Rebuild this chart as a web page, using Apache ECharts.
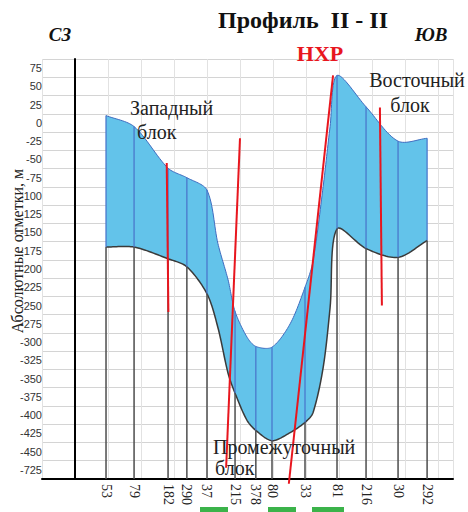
<!DOCTYPE html>
<html><head><meta charset="utf-8">
<script src="https://cdn.jsdelivr.net/npm/echarts@6/dist/echarts.min.js"></script>
<style>html,body{margin:0;padding:0;background:#fff}#c{width:468px;height:512px}</style>
</head><body><div id="c"></div>
<script>
// Y tick labels (top to bottom, the last one is an axis break)
const yTickLabels = ['75','50','25','0','-25','-50','-75','-100','-125','-150','-175','-200','-225','-250','-275','-300','-325','-350','-375','-400','-425','-450','-725'];
// Wells along the profile
const wellNames = ['53','79','182','290','37','215','378','80','33','81','216','30','292'];
const wellPos   = [94, 179, 282, 339, 400, 485, 548, 597, 697, 794, 882, 979, 1067];
const wellTop   = [10, -5, -62, -75, -92, -258, -306, -307, -225, 65, 22, -25, -21];
const wellBot   = [-170, -170, -186, -197, -234, -370, -421, -435, -410, -145, -172, -184, -161];
// Layer surfaces (read along the profile)
const surfX   = [94, 179, 282, 339, 400, 433, 464, 485, 521, 548, 597, 652, 697, 721, 752, 773, 794, 882, 979, 1067];
const surfTop = [10, -5, -62, -75, -92, -165, -215, -258, -293, -306, -307, -275, -225, -190, -87, -5, 65, 22, -25, -21];
const surfBot = [-170, -170, -186, -197, -234, -280, -343, -370, -407, -421, -435, -424, -410, -397, -335, -253, -145, -172, -184, -161];
// Faults
const faultA = [[278, -55], [283, -259]];
const faultB = [[500, -21], [458, -472]];
const faultNHR = [[782, 65], [648, -494]];
const faultC = [[924, 21], [930, -250]];

const X_MIN = -100, X_MAX = 1145.5;
const Y_MIN = -487.5, Y_MAX = 87.5;
const SMOOTH = 0.3;
const serif = '"Liberation Serif", "DejaVu Serif", serif';

const chart = echarts.init(document.getElementById('c'), null, {renderer: 'svg'});

function faultSeries(d) {
  return {type: 'line', xAxisIndex: 0, yAxisIndex: 1, data: d, symbol: 'none', clip: false, z: 8,
    lineStyle: {color: '#e8161e', width: 2}, silent: true, animation: false};
}

// Smooth a pixel polyline (same idea as ECharts' line smoothing) and sample it densely
function smoothSample(pts, s) {
  const n = pts.length, cin = [], cout = [];
  for (let i = 0; i < n; i++) {
    const p = pts[i], pr = pts[Math.max(i - 1, 0)], nx = pts[Math.min(i + 1, n - 1)];
    const vx = nx[0] - pr[0], vy = nx[1] - pr[1];
    const d0 = Math.hypot(p[0] - pr[0], p[1] - pr[1]), d1 = Math.hypot(nx[0] - p[0], nx[1] - p[1]);
    const sum = d0 + d1 || 1;
    cin.push([p[0] - vx * s * d0 / sum, p[1] - vy * s * d0 / sum]);
    cout.push([p[0] + vx * s * d1 / sum, p[1] + vy * s * d1 / sum]);
  }
  const out = [pts[0]];
  for (let i = 0; i < n - 1; i++) {
    const a = pts[i], b = cout[i], c = cin[i + 1], d = pts[i + 1];
    for (let k = 1; k <= 16; k++) {
      const t = k / 16, u = 1 - t;
      out.push([
        u * u * u * a[0] + 3 * u * u * t * b[0] + 3 * u * t * t * c[0] + t * t * t * d[0],
        u * u * u * a[1] + 3 * u * u * t * b[1] + 3 * u * t * t * c[1] + t * t * t * d[1]
      ]);
    }
  }
  return out;
}

chart.setOption({
  animation: false,
  grid: {left: 42, right: 15, top: 59, bottom: 33, containLabel: false, outerBoundsMode: 'none'},
  xAxis: [
    {type: 'value', min: X_MIN, max: X_MAX, interval: 100,
      axisLine: {show: false, onZero: false}, axisTick: {show: false}, axisLabel: {show: false},
      splitLine: {show: true, lineStyle: {color: '#e2e2e2', width: 1}}},
    {type: 'value', min: X_MIN, max: X_MAX, position: 'bottom',
      axisLine: {show: true, onZero: false, lineStyle: {color: '#000', width: 2}},
      axisTick: {show: false}, splitLine: {show: false},
      axisLabel: {customValues: wellPos, rotate: -90, margin: 5, color: '#222', fontSize: 14, fontFamily: serif,
        formatter: function (v) { const i = wellPos.indexOf(v); return i >= 0 ? wellNames[i] : ''; }}}
  ],
  yAxis: [
    {type: 'category', data: yTickLabels.slice().reverse(), boundaryGap: true, position: 'left',
      axisLine: {show: true, onZero: true, onZeroAxisIndex: 0, lineStyle: {color: '#000', width: 2}},
      axisTick: {show: false},
      axisLabel: {interval: 0, color: '#333', fontSize: 11, fontFamily: '"Liberation Sans", Arial, sans-serif', margin: 0},
      splitLine: {show: true, interval: 0, lineStyle: {color: '#d4d4d4', width: 1}}},
    {type: 'value', min: Y_MIN, max: Y_MAX, show: false, axisLine: {onZero: false}, splitLine: {show: false}}
  ],
  series: [
    {type: 'custom', name: 'layer', xAxisIndex: 0, yAxisIndex: 1, z: 3, clip: false,
      data: surfX.map((x, i) => [x, surfTop[i], surfBot[i]]),
      encode: {x: 0, y: [1, 2]},
      renderItem: function (params, api) {
        if (params.dataIndex !== 0) return null;
        const n = surfX.length, topPx = [], botPx = [];
        for (let i = 0; i < n; i++) {
          const x = api.value(0, i);
          topPx.push(api.coord([x, api.value(1, i)]));
          botPx.push(api.coord([x, api.value(2, i)]));
        }
        const topS = smoothSample(topPx, SMOOTH), botS = smoothSample(botPx, SMOOTH);
        return {type: 'group', children: [
          {type: 'polygon', shape: {points: topS.concat(botS.slice().reverse())}, style: {fill: '#63c3ea', stroke: null}},
          {type: 'polyline', shape: {points: topS}, style: {stroke: '#3f6cc0', lineWidth: 1, fill: null}},
          {type: 'polyline', shape: {points: botS}, style: {stroke: '#3a3a3a', lineWidth: 1.5, fill: null}}
        ]};
      }},
    {type: 'custom', xAxisIndex: 0, yAxisIndex: 1, z: 5, clip: false,
      data: wellPos.map((x, i) => [x, wellTop[i], wellBot[i]]),
      encode: {x: 0, y: [1, 2]},
      renderItem: function (params, api) {
        const x = api.value(0);
        const p1 = api.coord([x, api.value(1)]);
        const p2 = api.coord([x, api.value(2)]);
        const p3 = api.coord([x, Y_MIN]);
        return {type: 'group', children: [
          {type: 'line', shape: {x1: p1[0], y1: p1[1], x2: p2[0], y2: p2[1]}, style: {stroke: '#4a78cc', lineWidth: 1.3}},
          {type: 'line', shape: {x1: p2[0], y1: p2[1], x2: p3[0], y2: p3[1]}, style: {stroke: '#4d4d4d', lineWidth: 1.5}}
        ]};
      }},
    faultSeries(faultA), faultSeries(faultB), faultSeries(faultNHR), faultSeries(faultC)
  ],
  graphic: [
    {type: 'text', x: 303, y: 20, z: 10, style: {text: 'Профиль  II - II', fontSize: 24, fontWeight: 'bold', fontFamily: serif, fill: '#111', align: 'center', verticalAlign: 'middle'}},
    {type: 'text', x: 60, y: 34, z: 10, style: {text: 'СЗ', fontSize: 19, fontWeight: 'bold', fontStyle: 'italic', fontFamily: serif, fill: '#111', align: 'center', verticalAlign: 'middle'}},
    {type: 'text', x: 431, y: 34, z: 10, style: {text: 'ЮВ', fontSize: 19, fontWeight: 'bold', fontStyle: 'italic', fontFamily: serif, fill: '#111', align: 'center', verticalAlign: 'middle'}},
    {type: 'text', x: 320, y: 53, z: 10, style: {text: 'НХР', fontSize: 22, fontWeight: 'bold', fontFamily: serif, fill: '#e8161e', align: 'center', verticalAlign: 'middle'}},
    {type: 'text', x: 130, y: 108, z: 10, style: {text: 'Западный', fontSize: 20, fontFamily: serif, fill: '#222', align: 'left', verticalAlign: 'middle'}},
    {type: 'text', x: 137, y: 132, z: 10, style: {text: 'блок', fontSize: 20, fontFamily: serif, fill: '#222', align: 'left', verticalAlign: 'middle'}},
    {type: 'text', x: 417, y: 80, z: 10, style: {text: 'Восточный', fontSize: 20, fontFamily: serif, fill: '#222', align: 'center', verticalAlign: 'middle'}},
    {type: 'text', x: 410, y: 105, z: 10, style: {text: 'блок', fontSize: 20, fontFamily: serif, fill: '#222', align: 'center', verticalAlign: 'middle'}},
    {type: 'text', x: 213, y: 447, z: 10, style: {text: 'Промежуточный', fontSize: 20, fontFamily: serif, fill: '#222', align: 'left', verticalAlign: 'middle'}},
    {type: 'text', x: 215, y: 468, z: 10, style: {text: 'блок', fontSize: 20, fontFamily: serif, fill: '#222', align: 'left', verticalAlign: 'middle'}},
    {type: 'text', x: 17, y: 251, rotation: Math.PI / 2, z: 10, style: {text: 'Абсолютные отметки, м', fontSize: 16, fontFamily: serif, fill: '#222', align: 'center', verticalAlign: 'middle'}},
    {type: 'rect', shape: {x: 200, y: 507, width: 28, height: 6}, style: {fill: '#3bb34a'}},
    {type: 'rect', shape: {x: 268, y: 507, width: 28, height: 6}, style: {fill: '#3bb34a'}},
    {type: 'rect', shape: {x: 312, y: 507, width: 32, height: 6}, style: {fill: '#3bb34a'}}
  ]
});
</script></body></html>
